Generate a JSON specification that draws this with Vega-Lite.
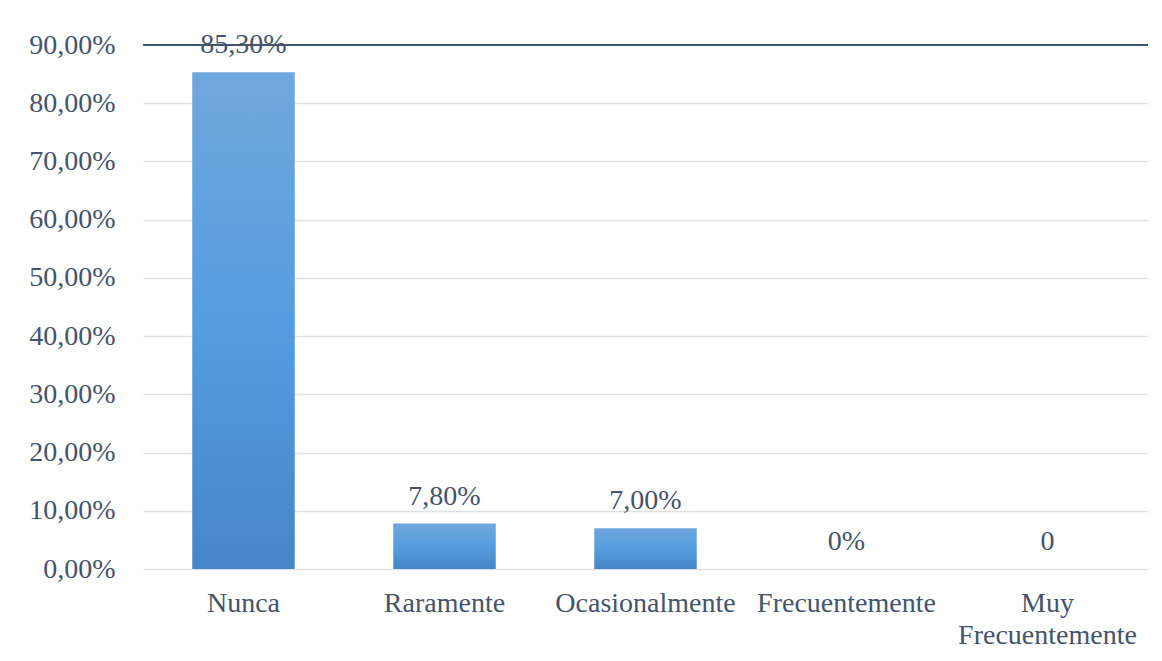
{
  "$schema": "https://vega.github.io/schema/vega-lite/v6.json",
  "autosize": {"type": "none"},
  "width": 1005,
  "height": 524,
  "padding": {"left": 143, "top": 45, "right": 14, "bottom": 92},
  "background": "white",
  "config": {
    "view": {"stroke": null},
    "font": "Liberation Serif",
    "axis": {"labelFont": "Liberation Serif", "labelColor": "#44546a", "labelFontSize": 28, "labelLimit": 0}
  },
  "data": {
    "values": [
      {"categoria": "Nunca", "valor": 0.853, "etiqueta": "85,30%"},
      {"categoria": "Raramente", "valor": 0.078, "etiqueta": "7,80%"},
      {"categoria": "Ocasionalmente", "valor": 0.07, "etiqueta": "7,00%"},
      {"categoria": "Frecuentemente", "valor": 0, "etiqueta": "0%"},
      {"categoria": "Muy Frecuentemente", "valor": 0, "etiqueta": "0"}
    ]
  },
  "encoding": {
    "x": {
      "field": "categoria",
      "type": "nominal",
      "sort": null,
      "scale": {"paddingInner": 0.49, "paddingOuter": 0.245},
      "axis": {
        "title": null,
        "domain": false,
        "ticks": false,
        "labelAngle": 0,
        "labelPadding": 20,
        "labelLineHeight": 32,
        "labelBaseline": "top",
        "labelLimit": 0,
        "labelOverlap": false,
        "labelExpr": "datum.label == 'Muy Frecuentemente' ? ['Muy', 'Frecuentemente'] : datum.label"
      }
    },
    "y": {
      "field": "valor",
      "type": "quantitative",
      "scale": {"domain": [0, 0.9], "nice": false},
      "axis": {
        "title": null,
        "domain": false,
        "ticks": false,
        "values": [0, 0.1, 0.2, 0.3, 0.4, 0.5, 0.6, 0.7, 0.8, 0.9],
        "labelPadding": 28,
        "labelExpr": "replace(format(datum.value, '.2%'), '.', ',')",
        "gridColor": "#dde1e6",
        "gridWidth": 1.5
      }
    }
  },
  "layer": [
    {
      "mark": {
        "type": "bar",
        "color": {
          "gradient": "linear",
          "x1": 0, "y1": 0, "x2": 0, "y2": 1,
          "stops": [
            {"offset": 0, "color": "#70a7dd"},
            {"offset": 0.5, "color": "#559ddf"},
            {"offset": 1, "color": "#4586c8"}
          ]
        }
      }
    },
    {
      "mark": {
        "type": "text",
        "baseline": "middle",
        "align": "center",
        "dy": -27,
        "fontSize": 28,
        "font": "Liberation Serif",
        "color": "#44546a"
      },
      "encoding": {"text": {"field": "etiqueta"}}
    },
    {
      "data": {"values": [{"tope": 0.9}]},
      "mark": {"type": "rule", "color": "#44546a", "strokeWidth": 2},
      "encoding": {"y": {"field": "tope", "type": "quantitative"}, "x": null}
    }
  ]
}
